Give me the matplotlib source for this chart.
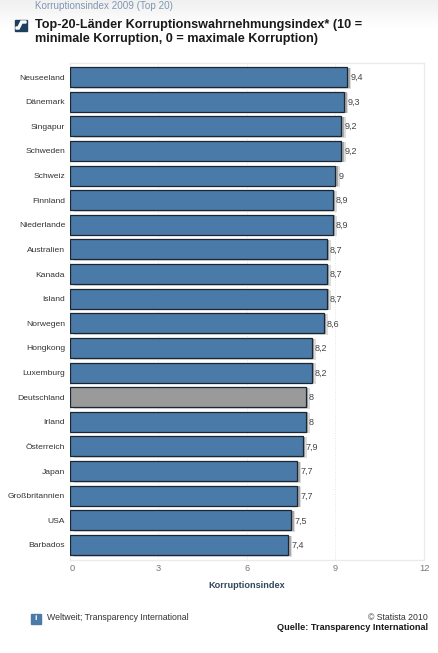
import matplotlib
matplotlib.use("Agg")
import matplotlib.pyplot as plt
from matplotlib.patches import Rectangle, Polygon
import numpy as np

countries = ["Neuseeland", "Dänemark", "Singapur", "Schweden", "Schweiz", "Finnland",
             "Niederlande", "Australien", "Kanada", "Island", "Norwegen", "Hongkong",
             "Luxemburg", "Deutschland", "Irland", "Österreich", "Japan",
             "Großbritannien", "USA", "Barbados"]
values = [9.4, 9.3, 9.2, 9.2, 9.0, 8.9, 8.9, 8.7, 8.7, 8.7, 8.6, 8.2, 8.2, 8.0, 8.0, 7.9, 7.7, 7.7, 7.5, 7.4]
labels = ["9,4", "9,3", "9,2", "9,2", "9", "8,9", "8,9", "8,7", "8,7", "8,7", "8,6", "8,2", "8,2", "8", "8", "7,9", "7,7", "7,7", "7,5", "7,4"]
highlight = "Deutschland"
xticks = [0, 3, 6, 9, 12]

W, H = 439, 653
plt.rcParams['font.family'] = ['Liberation Sans', 'DejaVu Sans']
fig = plt.figure(figsize=(W/100, H/100), dpi=100, facecolor='white')

# top gradient
bg = fig.add_axes([0, 1-30/H, 1, 30/H], zorder=0)
bg.imshow(np.linspace(0.94, 1, 30).reshape(-1, 1), cmap='gray', vmin=0, vmax=1, aspect='auto')
bg.axis('off')

ax = fig.add_axes([70/W, 1-560/H, 354/W, 497/H], zorder=1)
y = np.arange(len(countries))
colors = ['#9a9a9a' if c == highlight else '#4a7aa7' for c in countries]
ax.barh(y + 0.05, values, height=0.84, left=0.14, color='#dcdcdc', linewidth=0, zorder=2)
ax.barh(y + 0.03, values, height=0.82, left=0.08, color='#a8a8a8', linewidth=0, zorder=2.5)
ax.barh(y, values, height=0.81, color=colors, edgecolor='#1c2530', linewidth=0.9, zorder=3)
for yi, v, l in zip(y, values, labels):
    ax.text(v + 0.1, yi + 0.02, l, va='center', ha='left', fontsize=6.5, color='#444444', zorder=4)

ax.set_xlim(0, 12)
ax.set_ylim(19.61, -0.57)
ax.set_xticks(xticks)
ax.set_xticklabels([str(t) for t in xticks], fontsize=6.7, color='#777777')
ax.tick_params(axis='x', length=0, pad=3)
ax.get_xticklabels()[0].set_ha('left')
ax.set_yticks(y)
ax.set_yticklabels(countries, fontsize=6.1, color='#333333')
ax.tick_params(axis='y', length=0, pad=3.5)
ax.xaxis.grid(True, color='#e6e6e6', linewidth=0.7, linestyle=(0, (1, 1.5)), zorder=0)
ax.set_axisbelow(True)
for s in ax.spines.values():
    s.set_color('#ebebeb')
    s.set_linewidth(0.9)
ax.set_xlabel("Korruptionsindex", fontsize=6.6, fontweight='bold', color='#33475b', labelpad=5.5)

def T(x, yy, s, **k):
    fig.text(x/W, 1-yy/H, s, **k)

T(35, 6, "Korruptionsindex 2009 (Top 20)", fontsize=7.1, color='#7f97b2', va='center', zorder=5)
T(35, 25, "Top-20-Länder Korruptionswahrnehmungsindex* (10 =", fontsize=9.1, fontweight='bold', color='#1a1a1a', va='center', zorder=5)
T(35, 39, "minimale Korruption, 0 = maximale Korruption)", fontsize=9.1, fontweight='bold', color='#1a1a1a', va='center', zorder=5)

# logo
def px(x, yy):
    return (x/W, 1-yy/H)
fig.add_artist(Rectangle(px(15, 31), 12/W, 11/H, transform=fig.transFigure, color='#1f3f5f', zorder=5))
fig.add_artist(Polygon([px(16, 29), px(19, 29), px(22, 23), px(26, 23), px(26, 21), px(21, 21), px(18, 27), px(16, 27)],
                       transform=fig.transFigure, color='white', zorder=6))

# footer
fig.add_artist(Rectangle(px(31, 624), 10/W, 10/H, transform=fig.transFigure, color='#4a7aa7', zorder=5))
T(36, 619, "i", fontsize=6, fontweight='bold', color='white', ha='center', va='center', zorder=6)
T(47, 617.5, "Weltweit; Transparency International", fontsize=6.3, color='#333333', va='center', zorder=5)
T(428, 617.5, "© Statista 2010", fontsize=6.3, color='#333333', ha='right', va='center', zorder=5)
T(428, 628, "Quelle: Transparency International", fontsize=6.6, fontweight='bold', color='#1a1a1a', ha='right', va='center', zorder=5)

fig.savefig("out.png", dpi=100)
